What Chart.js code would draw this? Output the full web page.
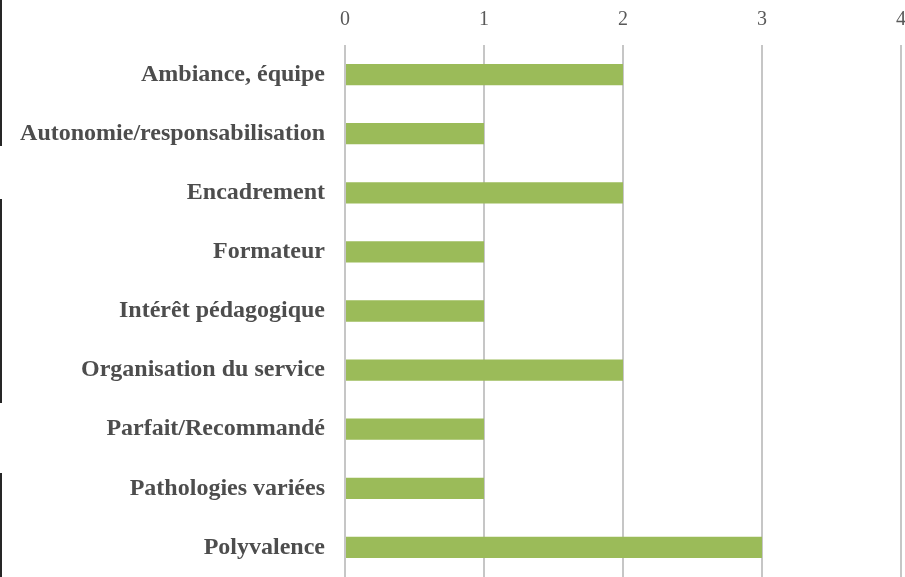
<!DOCTYPE html>
<html>
<head>
<meta charset="utf-8">
<script src="https://cdn.jsdelivr.net/npm/chart.js@4/dist/chart.umd.min.js"></script>
<style>
  html, body { margin: 0; padding: 0; background: #fff; }
  #wrap { position: relative; width: 905px; height: 577px; overflow: hidden; }
  canvas { position: absolute; left: 0; top: 0; }
  .edge { position: absolute; left: 0; width: 2px; background: #262626; }
</style>
</head>
<body>
<div id="wrap">
  <canvas id="c" width="905" height="577"></canvas>
  <div class="edge" style="top:0;height:146px"></div>
  <div class="edge" style="top:199px;height:204px"></div>
  <div class="edge" style="top:473px;height:104px"></div>
</div>
<script>
// Motifs cités et nombre de réponses
const categories = [
  'Ambiance, équipe',
  'Autonomie/responsabilisation',
  'Encadrement',
  'Formateur',
  'Intérêt pédagogique',
  'Organisation du service',
  'Parfait/Recommandé',
  'Pathologies variées',
  'Polyvalence'
];
const counts = [2, 1, 2, 1, 1, 2, 1, 1, 3];
const axisMin = 0;
const axisMax = 4;

const serif = '"Liberation Serif", "Times New Roman", serif';

// Keep the plot area edges fixed: no extra padding for edge labels
function noEdgePadding(scale) {
  scale.paddingLeft = 0;
  scale.paddingRight = 0;
  scale.paddingTop = 0;
  scale.paddingBottom = 0;
}

new Chart(document.getElementById('c'), {
  type: 'bar',
  data: {
    labels: categories,
    datasets: [{
      data: counts,
      backgroundColor: '#9BBB59',
      borderWidth: 0,
      categoryPercentage: 1,
      barPercentage: 0.36
    }]
  },
  options: {
    indexAxis: 'y',
    responsive: false,
    animation: false,
    layout: { padding: { left: 0, right: 4, top: 0, bottom: -2 } },
    plugins: { legend: { display: false }, tooltip: { enabled: false } },
    scales: {
      x: {
        position: 'top',
        min: axisMin,
        max: axisMax,
        ticks: {
          stepSize: 1,
          color: '#595959',
          font: { family: serif, size: 20 },
          padding: 13
        },
        grid: { color: '#c6c6c6', lineWidth: 2, drawTicks: false },
        border: { display: false },
        afterFit(scale) { scale.height = 45; noEdgePadding(scale); }
      },
      y: {
        ticks: {
          color: '#4d4d4d',
          font: { family: serif, size: 24, weight: 'bold' },
          padding: 20
        },
        grid: { display: false, drawTicks: false },
        border: { display: false },
        afterFit(scale) { scale.width = 345; noEdgePadding(scale); }
      }
    }
  }
});
</script>
</body>
</html>
